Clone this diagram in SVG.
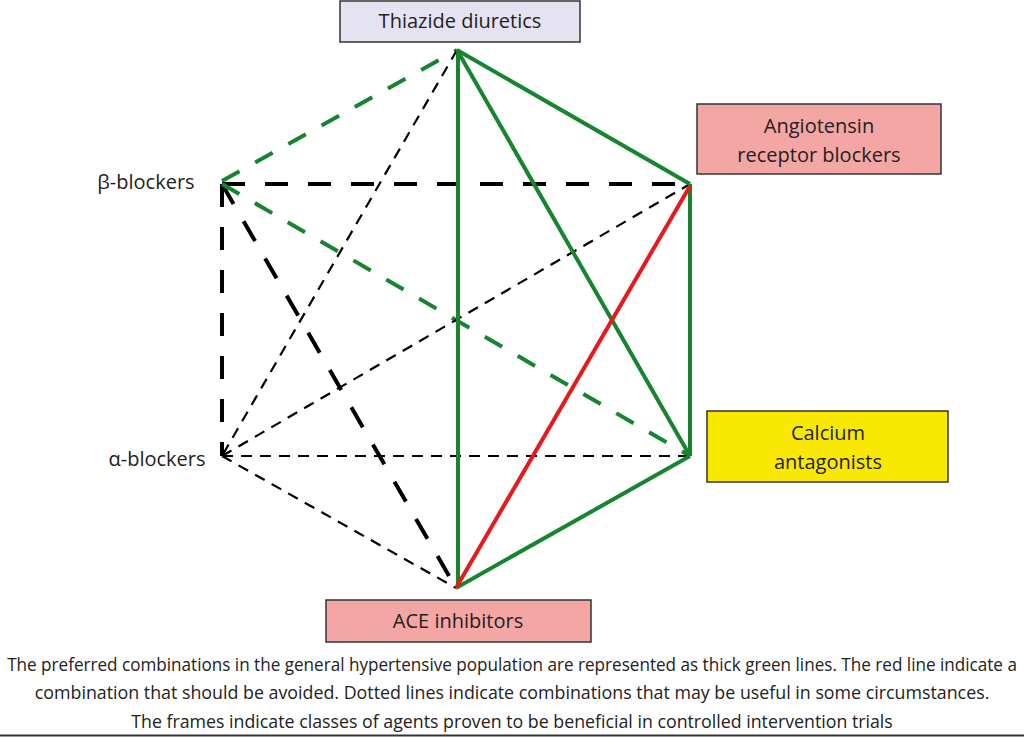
<svg xmlns="http://www.w3.org/2000/svg" width="1024" height="737" viewBox="0 0 1024 737">
<style>
.box{stroke:#333;stroke-width:1.5}
.lbl{font-family:"Open Sans","Liberation Sans",sans-serif;font-size:20px;fill:#222;text-anchor:middle}
.cap{font-family:"Open Sans","Liberation Sans",sans-serif;font-size:18px;fill:#222;text-anchor:middle}
.g{stroke:#17842f;stroke-width:4;fill:none;stroke-linecap:butt}
.gd{stroke:#17842f;stroke-width:4;stroke-dasharray:20 18;fill:none}
.r{stroke:#e8191c;stroke-width:4;fill:none}
.kd{stroke:#000;stroke-width:4;stroke-dasharray:23 20;fill:none}
.kt{stroke:#000;stroke-width:2.2;stroke-dasharray:11 8;fill:none}
</style>
<rect width="1024" height="737" fill="#fff"/>
<g id="connectors">
<line class="gd" x1="222" y1="181" x2="457" y2="50"/>
<line class="kt" x1="457" y1="50" x2="222" y2="456"/>
<line class="kd" x1="222" y1="184" x2="690" y2="184"/>
<line class="kd" x1="222" y1="184" x2="222" y2="456"/>
<line class="kd" x1="222" y1="184" x2="456" y2="588"/>
<line class="gd" x1="222" y1="184" x2="690" y2="456"/>
<line class="kt" x1="222" y1="456" x2="690" y2="184"/>
<line class="kt" x1="222" y1="456" x2="690" y2="456"/>
<line class="kt" x1="222" y1="456" x2="456" y2="588"/>
<line class="g" x1="458" y1="50" x2="458" y2="588"/>
<line class="g" x1="457" y1="50" x2="690" y2="184"/>
<line class="g" x1="457" y1="50" x2="690" y2="456"/>
<line class="g" x1="690" y1="184" x2="690" y2="456"/>
<line class="g" x1="690" y1="456" x2="456" y2="588"/>
<line class="r" x1="690" y1="186" x2="456" y2="588"/>
</g>
<g id="thiazide">
<rect class="box" x="340" y="1" width="240" height="41" fill="#e5e3f1"/>
<text class="lbl" x="460" y="28">Thiazide diuretics</text>
</g>
<g id="arb">
<rect class="box" x="697" y="104" width="244" height="70" fill="#f4a6a4"/>
<text class="lbl" x="819" y="133">Angiotensin</text>
<text class="lbl" x="819" y="162">receptor blockers</text>
</g>
<g id="calcium">
<rect class="box" x="707" y="411" width="241" height="71" fill="#f9e900"/>
<text class="lbl" x="828" y="440">Calcium</text>
<text class="lbl" x="828" y="469">antagonists</text>
</g>
<g id="ace">
<rect class="box" x="326" y="600" width="265" height="42" fill="#f4a6a4"/>
<text class="lbl" x="458" y="628">ACE inhibitors</text>
</g>
<g id="beta">
<text class="lbl" x="146" y="189">β-blockers</text>
</g>
<g id="alpha">
<text class="lbl" x="157" y="466">α-blockers</text>
</g>
<g id="caption" transform="scale(0.85 1)">
<text class="cap" x="602.4" y="671" textLength="1188" lengthAdjust="spacingAndGlyphs">The preferred combinations in the general hypertensive population are represented as thick green lines. The red line indicate a</text>
<text class="cap" x="602.4" y="699" textLength="1123" lengthAdjust="spacingAndGlyphs">combination that should be avoided. Dotted lines indicate combinations that may be useful in some circumstances.</text>
<text class="cap" x="602.4" y="728" textLength="896" lengthAdjust="spacingAndGlyphs">The frames indicate classes of agents proven to be beneficial in controlled intervention trials</text>
</g>
<line x1="0" y1="735.5" x2="1024" y2="735.5" stroke="#333" stroke-width="2"/>
</svg>
